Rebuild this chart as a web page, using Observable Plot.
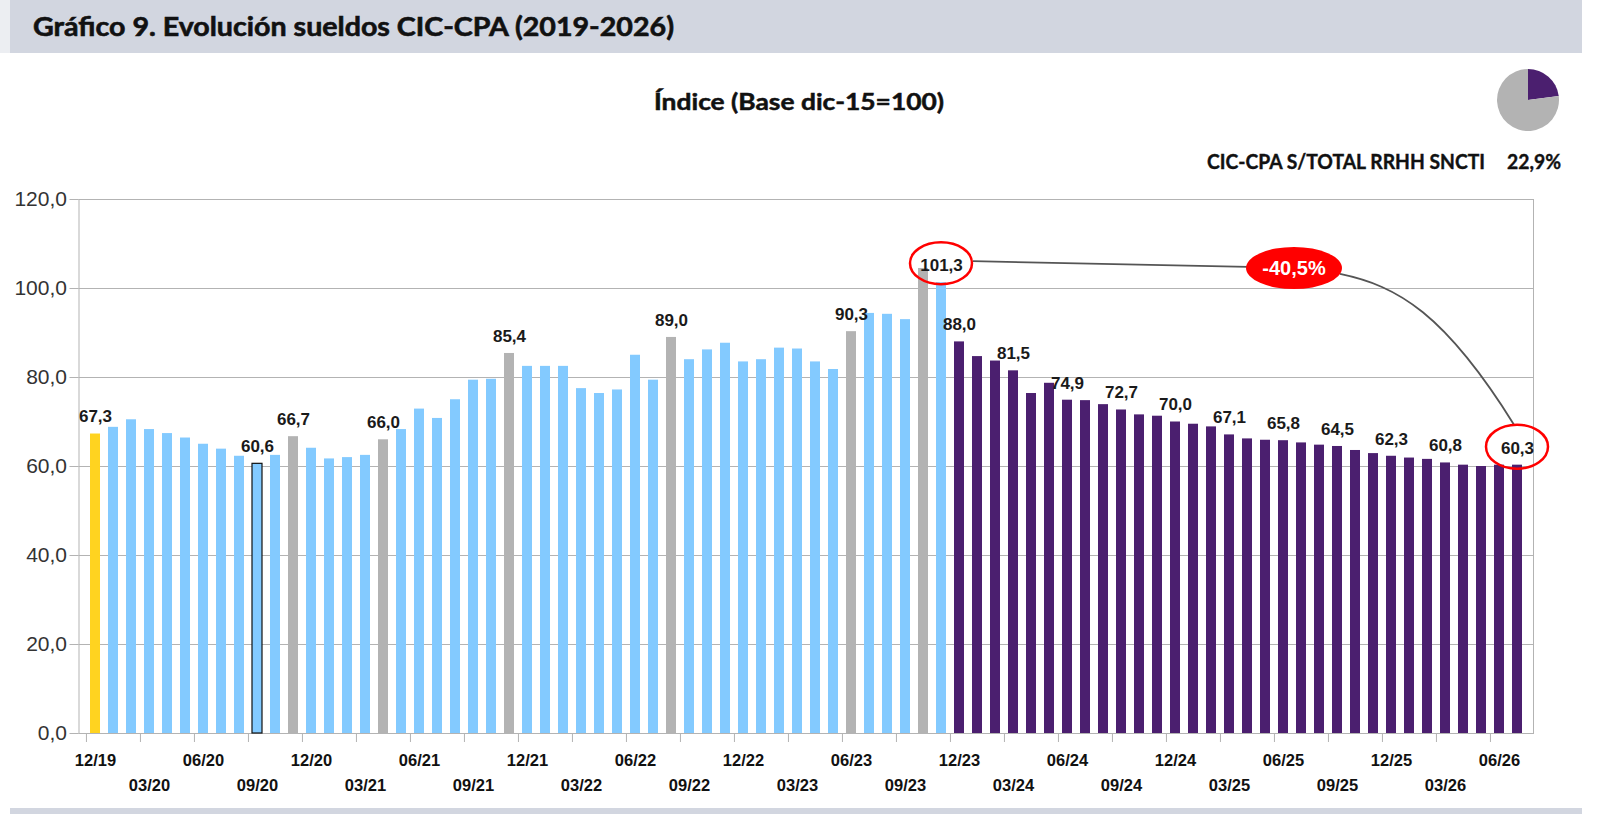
<!DOCTYPE html>
<html><head><meta charset="utf-8">
<script src="https://cdn.jsdelivr.net/npm/d3@7"></script>
<script src="https://cdn.jsdelivr.net/npm/@observablehq/plot@0.6"></script>
<style>
html,body{margin:0;padding:0;background:#fff;width:1597px;height:814px;overflow:hidden;}
#wrap{position:relative;width:1597px;height:814px;}
#leftstrip{position:absolute;left:0;top:0;width:10px;height:53px;background:#eceef2;}
#header{position:absolute;left:10px;top:0;width:1572px;height:53px;background:#d2d6e0;}
#chart{position:absolute;left:0;top:53px;}
#footer{position:absolute;left:10px;top:808px;width:1572px;height:6px;background:#d2d6e0;}
</style>
</head><body>
<div id="wrap">
  <div id="leftstrip"></div>
  <div id="header"><svg width="1572" height="53"><text id="title" x="23" y="36" font-family="Lato, 'Open Sans', sans-serif" font-weight="700" font-size="26" fill="#111" stroke="#111" stroke-width="0.6" textLength="641" lengthAdjust="spacingAndGlyphs">Gráfico 9. Evolución sueldos CIC-CPA (2019-2026)</text></svg></div>
  <div id="chart"></div>
  <div id="footer"></div>
</div>
<script>
// ---- data ----
const months = [
  "12/19",
  "01/20","02/20","03/20","04/20","05/20","06/20","07/20","08/20","09/20","10/20","11/20","12/20",
  "01/21","02/21","03/21","04/21","05/21","06/21","07/21","08/21","09/21","10/21","11/21","12/21",
  "01/22","02/22","03/22","04/22","05/22","06/22","07/22","08/22","09/22","10/22","11/22","12/22",
  "01/23","02/23","03/23","04/23","05/23","06/23","07/23","08/23","09/23","10/23","11/23","12/23",
  "01/24","02/24","03/24","04/24","05/24","06/24","07/24","08/24","09/24","10/24","11/24","12/24",
  "01/25","02/25","03/25","04/25","05/25","06/25","07/25","08/25","09/25","10/25","11/25","12/25",
  "01/26","02/26","03/26","04/26","05/26","06/26","07/26"
];
const values = [
  67.3, 68.8, 70.5, 68.3, 67.4, 66.4, 65.0, 63.9, 62.3, 60.6,
  62.5, 66.7, 64.1, 61.7, 62.0, 62.5, 66.0, 68.3, 72.9, 70.8,
  75.0, 79.4, 79.6, 85.4, 82.5, 82.5, 82.5, 77.5, 76.4, 77.2,
  85.0, 79.4, 89.0, 84.0, 86.2, 87.7, 83.5, 84.0, 86.6, 86.4,
  83.5, 81.8, 90.3, 94.4, 94.2, 93.0, 104.5, 101.3, 88.0, 84.7,
  83.7, 81.5, 76.4, 78.7, 74.9, 74.8, 73.9, 72.7, 71.6, 71.3,
  70.0, 69.5, 68.9, 67.1, 66.2, 65.9, 65.8, 65.3, 64.8, 64.5,
  63.6, 62.9, 62.3, 61.9, 61.6, 60.8, 60.3, 60.0, 60.3, 60.3
];
const baseMonth = "12/19";
const grayMonths = ["11/20","04/21","11/21","08/22","06/23","10/23"];
const outlinedMonth = "09/20";
const projectionStart = "12/23";
const labelMonths = ["12/19","09/20","11/20","04/21","11/21","08/22","06/23","11/23","12/23","03/24","06/24","09/24","12/24","03/25","06/25","09/25","12/25","03/26","07/26"];
const tickRow1 = ["12/19","06/20","12/20","06/21","12/21","06/22","12/22","06/23","12/23","06/24","12/24","06/25","12/25","06/26"];
const tickRow2 = ["03/20","09/20","03/21","09/21","03/22","09/22","03/23","09/23","03/24","09/24","03/25","09/25","03/26"];
const yTicks = [0, 20, 40, 60, 80, 100, 120];
const kinds = ["base", "obs", "hito", "proy"];
const kindColors = ["#ffd320", "#83caff", "#b3b3b3", "#4b1f6f"];
const pieShare = [22.9, 77.1];
const pieColors = ["#4b1f6f", "#b3b3b3"];
const peakMonth = "11/23", peakValue = 101.3;
const lastMonth = "07/26", lastValue = 60.3;
const changeText = "-40,5%";
const bubbleMonth = "06/25", bubbleValue = 104.5;

// ---- table ----
const projIdx = months.indexOf(projectionStart);
const table = months.map((m, i) => ({
  month: m, value: values[i],
  kind: m === baseMonth ? "base" : grayMonths.includes(m) ? "hito" : i >= projIdx ? "proy" : "obs"
}));
const fmt = v => v.toFixed(1).replace(".", ",");
const W = 1597, H = 755;
const mL = 78.5, mR = 64, mT = 146, mB = 75;
const pIn = 0.42, pOut = 0.39;
const step = (W - mL - mR) / (months.length - pIn + 2 * pOut);

const plot = Plot.plot({
  width: W, height: H,
  marginTop: mT, marginBottom: mB, marginLeft: mL, marginRight: mR,
  x: {type: "band", domain: months, paddingInner: pIn, paddingOuter: pOut, axis: null, label: null},
  y: {domain: [0, 120], axis: null, label: null},
  color: {domain: kinds, range: kindColors},
  style: {fontFamily: "'Liberation Sans', Arial, sans-serif", background: "transparent", overflow: "visible"},
  marks: [
    Plot.gridY(yTicks, {stroke: "#b3b3b3", strokeOpacity: 1}),
    Plot.frame({stroke: "#b3b3b3"}),
    Plot.axisY({ticks: yTicks, tickSize: 9, tickPadding: 3, tickFormat: fmt, fontSize: 21, stroke: "#b3b3b3", fill: "#333", label: null}),
    Plot.axisX({ticks: [...tickRow1, ...tickRow2], tickSize: 9, tickFormat: () => "", dx: -step / 2, stroke: "#b3b3b3", label: null}),
    Plot.barY(table, {x: "month", y: "value", fill: "kind"}),
    Plot.barY(table.filter(d => d.month === outlinedMonth), {x: "month", y: "value", fill: "#83caff", stroke: "#111", strokeWidth: 1.2}),
    Plot.text(table.filter(d => labelMonths.includes(d.month)), {x: "month", y: "value", text: d => fmt(d.value), dy: -17, fontSize: 17, fontWeight: "bold", fill: "#1a1a1a"}),
    Plot.text(tickRow1, {x: d => d, frameAnchor: "bottom", dy: 32, fontSize: 16.5, fontWeight: "bold", fill: "#111"}),
    Plot.text(tickRow2, {x: d => d, frameAnchor: "bottom", dy: 57, fontSize: 16.5, fontWeight: "bold", fill: "#111"})
  ]
});
document.getElementById("chart").appendChild(plot);

// ---- annotations using the plot's scales ----
const sx = plot.scale("x"), sy = plot.scale("y");
const cx = m => sx.apply(m) + sx.bandwidth / 2;
const svg = d3.select(plot);
const g = svg.append("g");

const e1 = {x: cx(peakMonth), y: sy.apply(peakValue) - 19, rx: 31, ry: 21};
const e3 = {x: cx(lastMonth), y: sy.apply(lastValue) - 18, rx: 31, ry: 22};
const bub = {x: cx(bubbleMonth) + 11, y: sy.apply(bubbleValue), rx: 48, ry: 21};

g.append("line")
  .attr("x1", e1.x + e1.rx + 1).attr("y1", e1.y - 2)
  .attr("x2", bub.x - bub.rx + 2).attr("y2", bub.y - 1)
  .attr("stroke", "#555").attr("stroke-width", 1.8);
const p0 = [bub.x + bub.rx - 2, bub.y + 6];
const p3 = [e3.x - 3, e3.y - e3.ry];
g.append("path")
  .attr("d", `M${p0[0]},${p0[1]} C${p0[0] + 58},${p0[1] + 12} ${p0[0] + 105},${p0[1] + 40} ${p3[0]},${p3[1]}`)
  .attr("fill", "none").attr("stroke", "#555").attr("stroke-width", 1.8);
[e1, e3].forEach(e => g.append("ellipse")
  .attr("cx", e.x).attr("cy", e.y).attr("rx", e.rx).attr("ry", e.ry)
  .attr("fill", "none").attr("stroke", "#ff0000").attr("stroke-width", 2.5));
g.append("ellipse").attr("cx", bub.x).attr("cy", bub.y).attr("rx", bub.rx).attr("ry", bub.ry).attr("fill", "#ff0000");
g.append("text").attr("x", bub.x).attr("y", bub.y + 7).attr("text-anchor", "middle")
  .attr("font-family", "'Liberation Sans', Arial, sans-serif").attr("font-weight", "bold").attr("font-size", 20)
  .attr("fill", "#fff").text(changeText);

// subtitle
svg.append("text").attr("x", 799).attr("y", 57).attr("text-anchor", "middle")
  .attr("font-family", "Lato, 'Open Sans', sans-serif").attr("font-weight", 700).attr("font-size", 23)
  .attr("fill", "#111").attr("stroke", "#111").attr("stroke-width", 0.5)
  .attr("textLength", 290).attr("lengthAdjust", "spacingAndGlyphs")
  .text("Índice (Base dic-15=100)");

// pie
const pieG = svg.append("g").attr("transform", "translate(1528,47)");
const arcs = d3.pie().sort(null)(pieShare);
pieG.selectAll("path").data(arcs).join("path")
  .attr("d", d3.arc().innerRadius(0).outerRadius(31))
  .attr("fill", (d, i) => pieColors[i]);
svg.append("text").attr("x", 1207).attr("y", 116).attr("text-anchor", "start")
  .attr("font-family", "Lato, 'Open Sans', sans-serif").attr("font-weight", 700).attr("font-size", 21)
  .attr("fill", "#111").attr("stroke", "#111").attr("stroke-width", 0.4)
  .attr("textLength", 278).attr("lengthAdjust", "spacingAndGlyphs")
  .text("CIC-CPA S/TOTAL RRHH SNCTI");
svg.append("text").attr("x", 1507).attr("y", 116).attr("text-anchor", "start")
  .attr("font-family", "Lato, 'Open Sans', sans-serif").attr("font-weight", 700).attr("font-size", 21)
  .attr("fill", "#111").attr("stroke", "#111").attr("stroke-width", 0.4)
  .attr("textLength", 54).attr("lengthAdjust", "spacingAndGlyphs")
  .text(fmt(pieShare[0]) + "%");
</script>
</body></html>
